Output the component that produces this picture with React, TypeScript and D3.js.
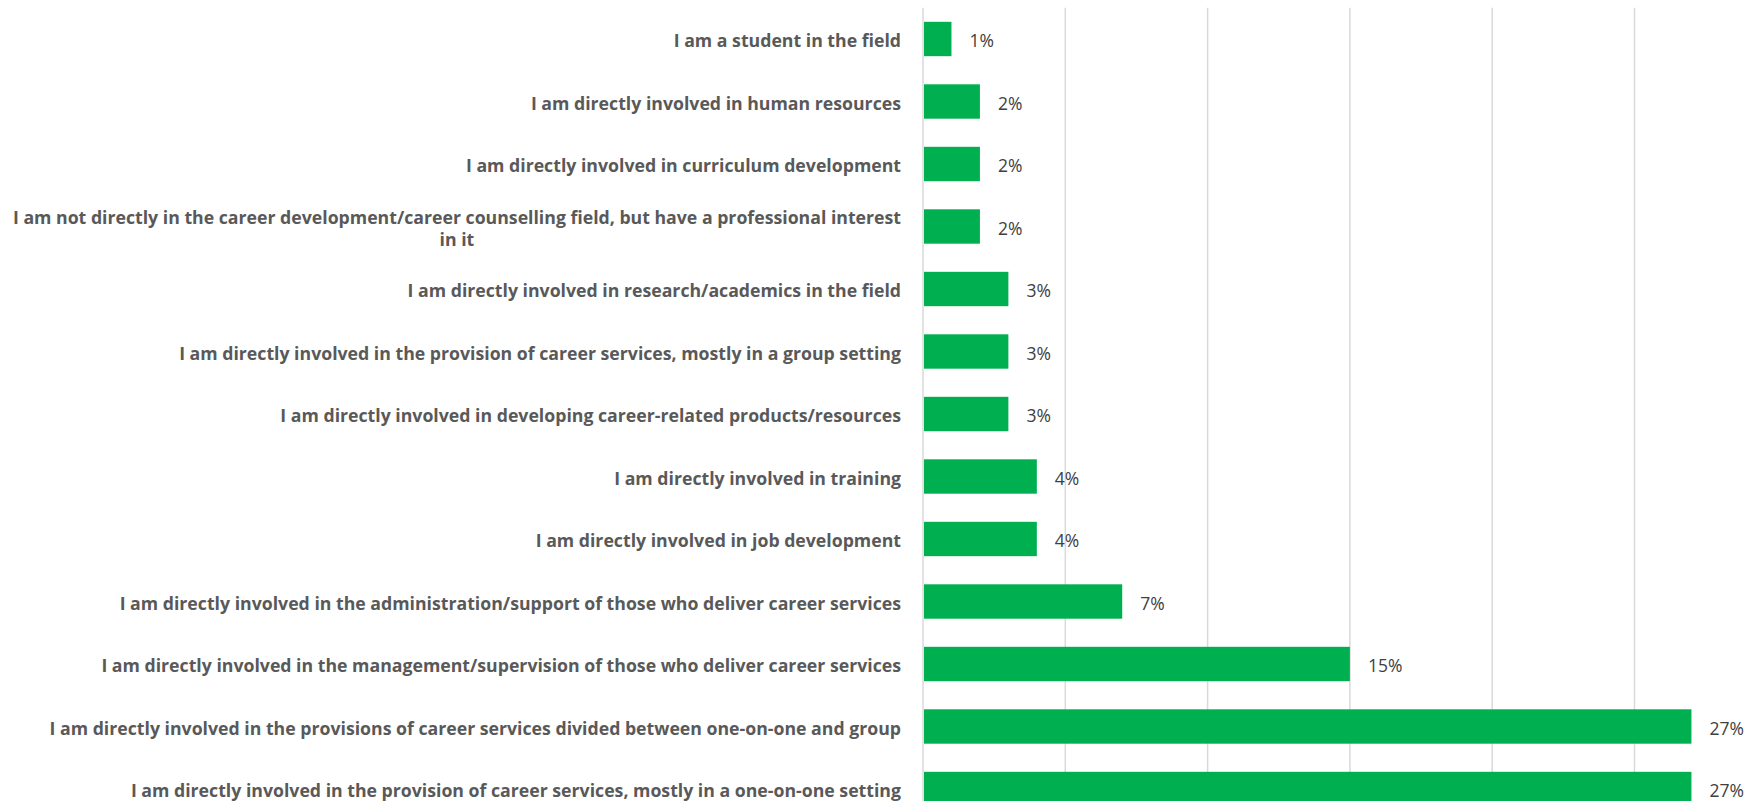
import React, { useEffect, useRef } from "react";
import * as d3 from "d3";

const categories: string[] = [
  "I am a student in the field",
  "I am directly involved in human resources",
  "I am directly involved in curriculum development",
  "I am not directly in the career development/career counselling field, but have a professional interest\nin it",
  "I am directly involved in research/academics in the field",
  "I am directly involved in the provision of career services, mostly in a group setting",
  "I am directly involved in developing career-related products/resources",
  "I am directly involved in training",
  "I am directly involved in job development",
  "I am directly involved in the administration/support of those who deliver career services",
  "I am directly involved in the management/supervision of those who deliver career services",
  "I am directly involved in the provisions of career services divided between one-on-one and group",
  "I am directly involved in the provision of career services, mostly in a one-on-one setting",
];

const values: number[] = [1, 2, 2, 2, 3, 3, 3, 4, 4, 7, 15, 27, 27];

const xTicks: number[] = [0, 5, 10, 15, 20, 25, 30];

const W = 1760;
const H = 801;

export default function App() {
  const ref = useRef<SVGSVGElement | null>(null);

  useEffect(() => {
    const svg = d3.select(ref.current);
    svg.selectAll("*").remove();

    const x0 = 923;
    const pxPer5 = 142.3;
    const x = d3
      .scaleLinear()
      .domain([0, 30])
      .range([x0, x0 + pxPer5 * 6]);

    const yTop = 7.75;
    const yBot = 820.25;
    const y = d3
      .scaleBand<string>()
      .domain(categories)
      .range([yTop, yBot])
      .paddingInner(0.45)
      .paddingOuter(0.225);

    const textShift = 2;

    // gridlines
    svg
      .append("g")
      .selectAll("line")
      .data(xTicks)
      .join("line")
      .attr("x1", (d) => x(d))
      .attr("x2", (d) => x(d))
      .attr("y1", yTop)
      .attr("y2", yBot)
      .attr("stroke", "#d9d9d9")
      .attr("stroke-width", 1.5);

    // bars
    svg
      .append("g")
      .selectAll("rect")
      .data(categories)
      .join("rect")
      .attr("x", x(0) + 1)
      .attr("y", (d) => y(d)!)
      .attr("width", (d, i) => x(values[i]) - x(0) - 1)
      .attr("height", y.bandwidth())
      .attr("fill", "#00b050");

    // value labels
    svg
      .append("g")
      .selectAll("text")
      .data(categories)
      .join("text")
      .attr("x", (d, i) => x(values[i]) + 18)
      .attr("y", (d) => y(d)! + y.bandwidth() / 2 + textShift)
      .attr("dy", "0.36em")
      .attr("font-family", "'Open Sans', sans-serif")
      .attr("font-size", 17.5)
      .attr("fill", "#404040")
      .text((d, i) => `${values[i]}%`);

    // category labels
    const rightEdge = x0 - 22;
    const lineH = 21.5;
    const g = svg.append("g");
    categories.forEach((cat) => {
      const lines = cat.split("\n");
      const cy = y(cat)! + y.bandwidth() / 2 + textShift;
      const t = g
        .append("text")
        .attr("font-family", "'Open Sans', sans-serif")
        .attr("font-weight", 700)
        .attr("font-size", 17.7)
        .attr("fill", "#595959");
      if (lines.length === 1) {
        t.attr("x", rightEdge)
          .attr("y", cy)
          .attr("dy", "0.36em")
          .attr("text-anchor", "end")
          .text(lines[0]);
      } else {
        const spans = lines.map((ln, i) =>
          t
            .append("tspan")
            .attr("y", cy + (i - (lines.length - 1) / 2) * lineH)
            .attr("dy", "0.36em")
            .text(ln)
        );
        const widths = spans.map((s) => (s.node() as SVGTSpanElement).getComputedTextLength());
        const maxW = Math.max(...widths);
        const center = rightEdge - maxW / 2;
        spans.forEach((s) => s.attr("x", center).attr("text-anchor", "middle"));
      }
    });
  }, []);

  return (
    <svg
      ref={ref}
      width={W}
      height={H}
      style={{ position: "absolute", left: 0, top: 0, background: "#ffffff" }}
    />
  );
}
